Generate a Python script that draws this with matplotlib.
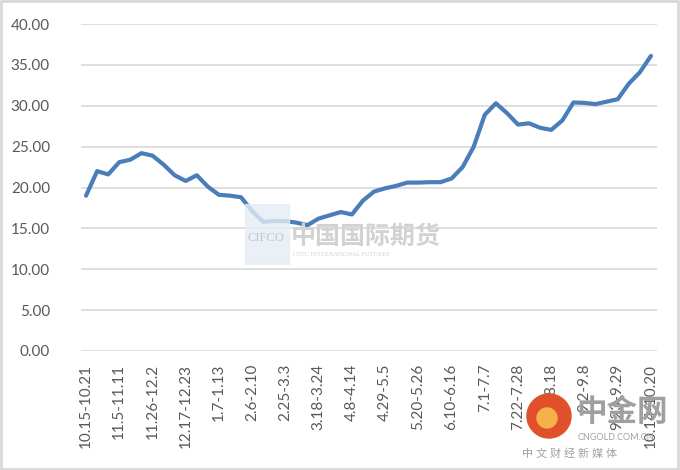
import matplotlib.pyplot as plt
from matplotlib.patches import Rectangle, Ellipse

# 周度区间标签
weeks = [
    '10.15-10.21', '10.22-10.28', '10.29-11.4', '11.5-11.11', '11.12-11.18', '11.19-11.25',
    '11.26-12.2', '12.3-12.9', '12.10-12.16', '12.17-12.23', '12.24-12.30', '12.31-1.6',
    '1.7-1.13', '1.14-1.20', '1.21-2.5', '2.6-2.10', '2.11-2.17', '2.18-2.24',
    '2.25-3.3', '3.4-3.10', '3.11-3.17', '3.18-3.24', '3.25-3.31', '4.1-4.7',
    '4.8-4.14', '4.15-4.21', '4.22-4.28', '4.29-5.5', '5.6-5.12', '5.13-5.19',
    '5.20-5.26', '5.27-6.2', '6.3-6.9', '6.10-6.16', '6.17-6.23', '6.24-6.30',
    '7.1-7.7', '7.8-7.14', '7.15-7.21', '7.22-7.28', '7.29-8.4', '8.5-8.11',
    '8.12-8.18', '8.19-8.25', '8.26-9.1', '9.2-9.8', '9.9-9.15', '9.16-9.22',
    '9.23-9.29', '9.30-10.6', '10.7-10.13', '10.14-10.20',
]
values = [
    19.0, 22.0, 21.6, 23.1, 23.4, 24.2, 23.9, 22.8, 21.5, 20.8, 21.5, 20.1,
    19.1, 19.0, 18.8, 17.1, 15.8, 15.9, 15.9, 15.7, 15.4, 16.2, 16.6, 17.0,
    16.7, 18.4, 19.5, 19.9, 20.2, 20.6, 20.6, 20.65, 20.65, 21.1, 22.5, 25.0,
    28.9, 30.3, 29.1, 27.7, 27.85, 27.3, 27.05, 28.2, 30.4, 30.35, 30.2, 30.5,
    30.8, 32.7, 34.1, 36.1,
]
yticks = [0, 5, 10, 15, 20, 25, 30, 35, 40]

plt.rcParams['font.family'] = ['Lato', 'Noto Sans CJK SC', 'DejaVu Sans']

fig = plt.figure(figsize=(6.8, 4.7), dpi=100)
ax = fig.add_axes([80.5 / 680, 1 - 351 / 470, 576 / 680, 327 / 470])

x = list(range(len(values)))
ax.plot(x, values, color='#4a7ebb', lw=3.0, solid_joinstyle='round', solid_capstyle='round', zorder=3)

ax.set_xlim(-0.5, len(values) - 0.5)
ax.set_ylim(0, 40)
ax.set_yticks(yticks)
ax.set_yticklabels([f'{v:.2f}' for v in yticks], fontsize=11, color='#595959')
ax.set_xticks(x[::3])
ax.set_xticklabels(weeks[::3], rotation=90, fontsize=11, color='#595959')
ax.tick_params(length=0)
ax.tick_params(axis='y', pad=22)
ax.tick_params(axis='x', pad=9)
ax.grid(axis='y', color='#d9d9d9', lw=1.2)
ax.set_axisbelow(True)
for s in ax.spines.values():
    s.set_visible(False)

# 水印
fig.patches.append(Rectangle((245 / 680, 1 - 264 / 470), 44 / 680, 60 / 470,
                             transform=fig.transFigure, color='#e6edf6', alpha=0.8, zorder=0))
fig.text(247 / 680, 1 - 238 / 470, 'CIFCO', fontsize=9, color='#c0c6d0', family='Liberation Serif', va='center')
fig.text(291 / 680, 1 - 236 / 470, '中国国际期货', fontsize=18, color='#d2d2d2', va='center', fontweight='bold')
fig.text(293 / 680, 1 - 254 / 470, 'CITIC INTERNATIONAL FUTURES', fontsize=4.5, color='#d2d2d2',
         va='center', family='Liberation Serif')
fig.patches.append(Ellipse((549 / 680, 1 - 416 / 470), 44 / 680, 44 / 470, transform=fig.transFigure,
                           color='#e0502a', zorder=5))
fig.patches.append(Ellipse((547 / 680, 1 - 418 / 470), 20 / 680, 20 / 470, transform=fig.transFigure,
                           color='#f6b24a', zorder=5))
fig.text(576 / 680, 1 - 411 / 470, '中金网', fontsize=22, color='#a0a0a0', va='center', fontweight='bold', zorder=6)
fig.text(578 / 680, 1 - 438 / 470, 'CNGOLD.COM.CN', fontsize=6.5, color='#a0a0a0', va='center', zorder=6)
fig.text(522 / 680, 1 - 453 / 470, '中 文 财 经 新 媒 体', fontsize=8, color='#a0a0a0', va='center', zorder=6)

# 外框
fig.patches.append(Rectangle((0.002, 0.003), 0.995, 0.994, transform=fig.transFigure,
                             fill=False, edgecolor='#d9d9d9', lw=2))

fig.savefig('out.png', dpi=100)
